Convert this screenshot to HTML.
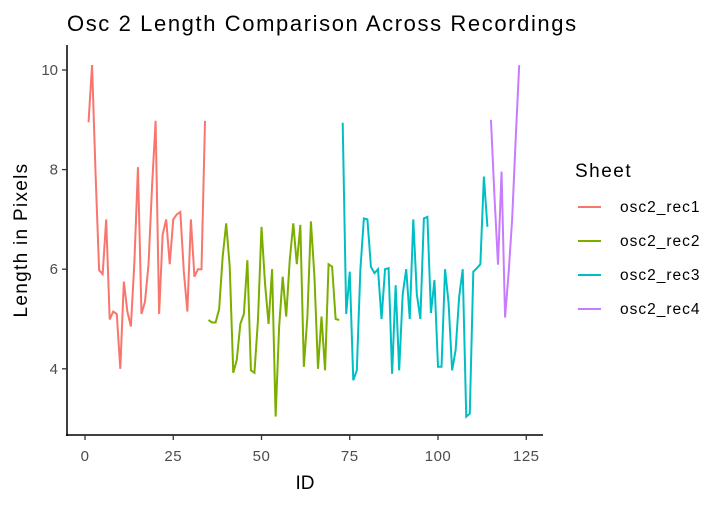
<!DOCTYPE html>
<html><head><meta charset="utf-8"><style>
body{margin:0;background:#fff;font-family:"Liberation Sans",sans-serif}
svg text{font-family:"Liberation Sans",sans-serif}
</style></head><body>
<svg id="chart" width="726" height="502" viewBox="0 0 726 502" xmlns="http://www.w3.org/2000/svg">
<rect width="726" height="502" fill="#fff"/>
<text x="67" y="31" font-size="22" letter-spacing="1.6" fill="#000">Osc 2 Length Comparison Across Recordings</text>
<g id="plot"></g>
<line x1="67" y1="45" x2="67" y2="436" stroke="#000" stroke-width="1.5"/>
<line x1="66" y1="435" x2="543" y2="435" stroke="#000" stroke-width="1.5"/>
<g id="xticks"></g><g id="yticks"></g>
<text x="305" y="489" font-size="19" text-anchor="middle">ID</text>
<text transform="translate(27,240) rotate(-90)" font-size="19" letter-spacing="1.3" text-anchor="middle">Length in Pixels</text>
<g id="legend">
<text x="575" y="177" font-size="19" letter-spacing="1.5">Sheet</text>
</g>
</svg>
<script>
const seriesNames=["osc2_rec1","osc2_rec2","osc2_rec3","osc2_rec4"];
const colors=["#F8766D","#7CAE00","#00BFC4","#C77CFF"];
const startIds=[1,35,73,115];
const rec1=[8.95,10.1,7.9,5.98,5.9,7.0,4.99,5.15,5.1,4.0,5.75,5.15,4.85,6.15,8.05,5.1,5.35,6.1,7.67,8.98,5.1,6.7,7.0,6.1,7.0,7.1,7.15,5.95,5.15,7.0,5.85,6.0,6.0,8.98];
const rec2=[4.98,4.93,4.93,5.2,6.25,6.92,6.05,3.92,4.18,4.9,5.1,6.18,3.97,3.92,4.98,6.85,5.71,4.9,6.0,3.04,4.85,5.85,5.05,6.18,6.92,6.1,6.89,4.04,5.05,6.96,5.85,4.0,5.05,3.97,6.1,6.05,5.0,4.98];
const rec3=[8.94,5.1,5.95,3.77,3.97,5.98,7.02,7.0,6.05,5.92,6.0,5.0,6.0,6.02,3.9,5.68,3.97,5.5,6.0,5.0,7.0,5.5,5.0,7.02,7.05,5.12,5.78,4.04,4.04,6.0,5.32,3.97,4.38,5.45,6.0,3.04,3.1,5.95,6.02,6.1,7.86,6.85];
const rec4=[9.0,7.46,6.09,7.96,5.03,5.92,7.0,8.6,10.1];
const xTicks=[0,25,50,75,100,125];
const yTicks=[4,6,8,10];
const NS="http://www.w3.org/2000/svg";
const xs=v=>85+v*3.53;
const ys=v=>70+(10-v)*49.8;
const all=[rec1,rec2,rec3,rec4];
const plot=document.getElementById('plot');
all.forEach((s,i)=>{
  const p=document.createElementNS(NS,'polyline');
  p.setAttribute('points',s.map((v,k)=>xs(startIds[i]+k)+','+ys(v)).join(' '));
  p.setAttribute('fill','none');p.setAttribute('stroke',colors[i]);p.setAttribute('stroke-width','2');
  
  
  plot.appendChild(p);
});
const xt=document.getElementById('xticks');
xTicks.forEach(t=>{
  const l=document.createElementNS(NS,'line');
  l.setAttribute('x1',xs(t));l.setAttribute('x2',xs(t));l.setAttribute('y1',435);l.setAttribute('y2',440);
  l.setAttribute('stroke','#333');l.setAttribute('stroke-width','1.3');
  
  
  xt.appendChild(l);
  const tx=document.createElementNS(NS,'text');
  tx.setAttribute('x',xs(t));tx.setAttribute('y',461);tx.setAttribute('text-anchor','middle');
  tx.setAttribute('font-size','15');tx.setAttribute('letter-spacing','0.5');tx.setAttribute('fill','#4d4d4d');tx.textContent=t;
  
  
  xt.appendChild(tx);
});
const yt=document.getElementById('yticks');
yTicks.forEach(t=>{
  const l=document.createElementNS(NS,'line');
  l.setAttribute('x1',62);l.setAttribute('x2',67);l.setAttribute('y1',ys(t));l.setAttribute('y2',ys(t));
  l.setAttribute('stroke','#333');l.setAttribute('stroke-width','1.3');
  
  
  yt.appendChild(l);
  const tx=document.createElementNS(NS,'text');
  tx.setAttribute('x',58);tx.setAttribute('y',ys(t)+5);tx.setAttribute('text-anchor','end');
  tx.setAttribute('font-size','15');tx.setAttribute('fill','#4d4d4d');tx.textContent=t;
  
  
  yt.appendChild(tx);
});
const lg=document.getElementById('legend');
seriesNames.forEach((n,i)=>{
  const y=207+i*34;
  const l=document.createElementNS(NS,'line');
  l.setAttribute('x1',578);l.setAttribute('x2',601);l.setAttribute('y1',y);l.setAttribute('y2',y);
  l.setAttribute('stroke',colors[i]);l.setAttribute('stroke-width','2');
  
  
  lg.appendChild(l);
  const tx=document.createElementNS(NS,'text');
  tx.setAttribute('x',620);tx.setAttribute('y',y+5);tx.setAttribute('font-size','15.5');tx.setAttribute('letter-spacing','1');tx.textContent=n;
  
  
  lg.appendChild(tx);
});
</script>
</body></html>
